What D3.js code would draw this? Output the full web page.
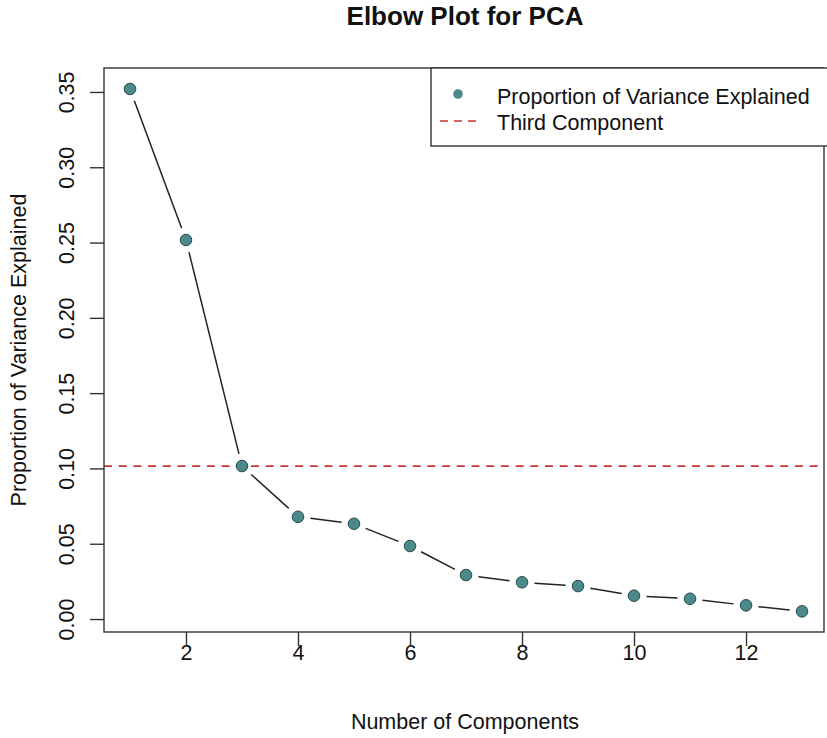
<!DOCTYPE html>
<html>
<head>
<meta charset="utf-8">
<script src="https://cdn.jsdelivr.net/npm/d3@7"></script>
<style>
  body { margin: 0; background: #fff; }
  svg { display: block; font-family: "Liberation Sans", Arial, sans-serif; }
</style>
</head>
<body>
<div id="chart"></div>
<script>
// Data
const components = [1, 2, 3, 4, 5, 6, 7, 8, 9, 10, 11, 12, 13];
const varianceExplained = [0.352, 0.2517, 0.1016, 0.0679, 0.0633, 0.0485, 0.0292,
                           0.0244, 0.0219, 0.0155, 0.0135, 0.0091, 0.0051];
const thirdComponent = varianceExplained[2];
const xTicks = [2, 4, 6, 8, 10, 12];
const yTicks = [0.00, 0.05, 0.10, 0.15, 0.20, 0.25, 0.30, 0.35];
const legendLabels = ['Proportion of Variance Explained', 'Third Component'];

const width = 827, height = 738;
const box = { left: 104, right: 824, top: 68, bottom: 632 };
const pointFill = '#4a8a8b';
const redLine = '#c93434';
const labelSize = '21.5px';

const svg = d3.select('#chart').append('svg')
    .attr('width', width)
    .attr('height', height);

// R-style 4% padded domains
const x = d3.scaleLinear().domain([0.52, 13.48]).range([103.1, 828.9]);
const y = d3.scaleLinear().domain([-0.0086, 0.3659]).range([box.bottom, box.top]);

// Title
svg.append('text')
    .attr('x', 465).attr('y', 25)
    .attr('text-anchor', 'middle')
    .style('font-size', '26px')
    .style('font-weight', 'bold')
    .attr('fill', '#111')
    .text('Elbow Plot for PCA');

// Reference line
svg.append('line')
    .attr('x1', box.left).attr('x2', box.right)
    .attr('y1', y(thirdComponent)).attr('y2', y(thirdComponent))
    .attr('stroke', redLine)
    .attr('stroke-width', 1.7)
    .attr('stroke-dasharray', '8,6.7');

// Line segments with gaps round the points (type = "b")
const gap = 12.5;
const pts = components.map((c, i) => [x(c), y(varianceExplained[i])]);
const segs = d3.pairs(pts).map(([a, b]) => {
    const dx = b[0] - a[0], dy = b[1] - a[1];
    const len = Math.hypot(dx, dy);
    const ux = dx / len, uy = dy / len;
    return { x1: a[0] + ux * gap, y1: a[1] + uy * gap, x2: b[0] - ux * gap, y2: b[1] - uy * gap, len };
}).filter(s => s.len > 2 * gap);

svg.append('g').selectAll('line')
    .data(segs)
    .enter()
    .append('line')
    .attr('x1', d => d.x1).attr('y1', d => d.y1)
    .attr('x2', d => d.x2).attr('y2', d => d.y2)
    .attr('stroke', '#222')
    .attr('stroke-width', 1.5);

// Points
svg.append('g').selectAll('circle')
    .data(components)
    .enter()
    .append('circle')
    .attr('cx', d => x(d))
    .attr('cy', (d, i) => y(varianceExplained[i]))
    .attr('r', 5.8)
    .attr('fill', pointFill)
    .attr('stroke', '#2e4a4a')
    .attr('stroke-width', 1);

// Plot frame
svg.append('rect')
    .attr('x', box.left).attr('y', box.top)
    .attr('width', box.right - box.left)
    .attr('height', box.bottom - box.top)
    .attr('fill', 'none')
    .attr('stroke', '#333')
    .attr('stroke-width', 1.4);

// X axis
const xAxis = svg.append('g')
    .attr('transform', `translate(0, ${box.bottom})`)
    .call(d3.axisBottom(x).tickValues(xTicks).tickSize(14).tickFormat(d3.format('d')));
xAxis.select('.domain').remove();
xAxis.selectAll('line').attr('stroke', '#333').attr('stroke-width', 1.4);
xAxis.selectAll('text')
    .attr('y', 28).attr('dy', null)
    .style('font-size', labelSize)
    .style('font-family', '"Liberation Sans", Arial, sans-serif')
    .attr('fill', '#111');

// Y axis
const yAxis = svg.append('g')
    .attr('transform', `translate(${box.left}, 0)`)
    .call(d3.axisLeft(y).tickValues(yTicks).tickSize(14).tickFormat(d3.format('.2f')));
yAxis.select('.domain').remove();
yAxis.selectAll('line').attr('stroke', '#333').attr('stroke-width', 1.4);
yAxis.selectAll('text')
    .attr('x', 0).attr('y', 0).attr('dy', null)
    .attr('text-anchor', 'middle')
    .attr('transform', 'translate(-30.5, 0) rotate(-90)')
    .style('font-size', labelSize)
    .style('font-family', '"Liberation Sans", Arial, sans-serif')
    .attr('fill', '#111');

// Axis titles
svg.append('text')
    .attr('x', 465).attr('y', 729)
    .attr('text-anchor', 'middle')
    .style('font-size', labelSize)
    .attr('fill', '#111')
    .text('Number of Components');

svg.append('text')
    .attr('transform', `translate(26, ${(box.top + box.bottom) / 2}) rotate(-90)`)
    .attr('text-anchor', 'middle')
    .style('font-size', labelSize)
    .attr('fill', '#111')
    .text('Proportion of Variance Explained');

// Legend
const legend = svg.append('g');
legend.append('rect')
    .attr('x', 431).attr('y', box.top)
    .attr('width', 420).attr('height', 78)
    .attr('fill', '#fff')
    .attr('stroke', '#333')
    .attr('stroke-width', 1.4);
legend.append('circle')
    .attr('cx', 458).attr('cy', 94)
    .attr('r', 4.8)
    .attr('fill', pointFill);
legend.append('line')
    .attr('x1', 440).attr('x2', 476)
    .attr('y1', 121).attr('y2', 121)
    .attr('stroke', redLine)
    .attr('stroke-width', 1.6)
    .attr('stroke-dasharray', '8,6');
legend.selectAll('text.label')
    .data(legendLabels)
    .enter()
    .append('text')
    .attr('class', 'label')
    .attr('x', 497)
    .attr('y', (d, i) => 96 + i * 26)
    .attr('dy', '0.35em')
    .style('font-size', labelSize)
    .attr('fill', '#111')
    .text(d => d);
</script>
</body>
</html>
